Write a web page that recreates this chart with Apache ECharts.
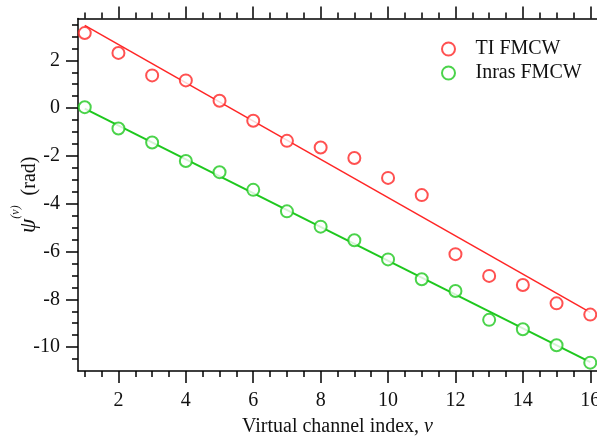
<!DOCTYPE html>
<html>
<head>
<meta charset="utf-8">
<script src="https://cdn.jsdelivr.net/npm/echarts@6/dist/echarts.min.js"></script>
<style>
html,body{margin:0;padding:0;background:#fff;}
#c{width:597px;height:441px;}
</style>
</head>
<body>
<div id="c"></div>
<script>
// Data
var channels = [1,2,3,4,5,6,7,8,9,10,11,12,13,14,15,16];
var tiValues = [3.14, 2.31, 1.37, 1.16, 0.31, -0.53, -1.37, -1.65, -2.09, -2.92, -3.64, -6.11, -7.02, -7.40, -8.17, -8.64];
var inrasValues = [0.04, -0.85, -1.44, -2.21, -2.68, -3.42, -4.32, -4.96, -5.53, -6.33, -7.16, -7.65, -8.86, -9.25, -9.92, -10.65];
var tiFitX = [1, 16];
var tiFitY = [3.46, -8.55];
var inrasFitX = [1, 16];
var inrasFitY = [-0.02, -10.63];
var xTickLabels = [2,4,6,8,10,12,14,16];
var yTickLabels = [-10,-8,-6,-4,-2,0,2];

var X_MIN = 0.8, X_MAX = 16.2, Y_MIN = -11, Y_MAX = 3.75;

function minorTicks(lo, hi, step, majors){
  var out = [];
  for (var v = lo; v <= hi + 1e-9; v += step) {
    var r = Math.round(v*100)/100;
    if (majors.indexOf(r) < 0) out.push(r);
  }
  return out;
}
var xMinor = minorTicks(1, 16, 0.5, xTickLabels);
var yMinor = minorTicks(-10.5, 3.5, 0.5, yTickLabels);

function zip(xs, ys){ return xs.map(function(x,i){ return [x, ys[i]]; }); }

var RED = '#ff2626', GREEN = '#1ec81e';
var FONT = '"Liberation Serif", "Times New Roman", serif';

function xAx(pos, showLine, ticks, len, labels){
  return {
    type:'value', position:pos, min:X_MIN, max:X_MAX,
    axisLine:{show:showLine, onZero:false, lineStyle:{color:'#000', width:1.5}},
    axisTick:{show:true, inside:false, length:len, customValues:ticks, lineStyle:{color:'#000', width:1.5}},
    axisLabel:{show:!!labels, customValues:labels||[], margin:20, color:'#111', fontFamily:FONT, fontSize:20},
    splitLine:{show:false}
  };
}
function yAx(showLine, ticks, len, labels){
  return {
    type:'value', position:'left', min:Y_MIN, max:Y_MAX,
    axisLine:{show:showLine, onZero:false, lineStyle:{color:'#000', width:1.5}},
    axisTick:{show:true, inside:false, length:len, customValues:ticks, lineStyle:{color:'#000', width:1.5}},
    axisLabel:{show:!!labels, customValues:labels||[], margin:18, color:'#111', fontFamily:FONT, fontSize:20},
    splitLine:{show:false}
  };
}

var xb = xAx('bottom', true, xTickLabels, 12, xTickLabels);
xb.name = 'Virtual channel index, {it|v}';
xb.nameLocation = 'middle';
xb.nameGap = 46;
xb.nameMoveOverlap = false;
xb.nameTextStyle = {color:'#111', fontFamily:FONT, fontSize:20, rich:{it:{fontStyle:'italic', fontFamily:FONT, fontSize:20, color:'#111'}}};

var yl = yAx(true, yTickLabels, 12, yTickLabels);
yl.name = '{psi|ψ}{sup|(v)}{gap| }{rad|(rad)}';
yl.nameLocation = 'middle';
yl.nameRotate = 90;
yl.nameGap = 38;
yl.nameMoveOverlap = false;
yl.nameTextStyle = {color:'#111', fontFamily:FONT, fontSize:20, rich:{
  psi:{fontStyle:'italic', fontFamily:FONT, fontSize:23, color:'#111', verticalAlign:'bottom', lineHeight:22},
  sup:{fontStyle:'italic', fontFamily:FONT, fontSize:12, color:'#111', verticalAlign:'top', lineHeight:12},
  gap:{fontSize:20, lineHeight:30, width:10, verticalAlign:'bottom'},
  rad:{fontFamily:FONT, fontSize:20, color:'#111', verticalAlign:'bottom', lineHeight:20}
}};

var option = {
  animation:false,
  backgroundColor:'#fff',
  grid:{left:78, right:0, top:18.5, bottom:70, containLabel:false, outerBoundsMode:'none'},
  legend:{
    orient:'vertical', left:436, top:34, itemWidth:36, itemHeight:13, itemGap:4,
    data:['TI FMCW','Inras FMCW'],
    textStyle:{fontFamily:FONT, fontSize:20, color:'#111', padding:[0,0,0,4]}
  },
  xAxis:[
    xb,
    xAx('bottom', false, xMinor, 6, null),
    xAx('top', true, xTickLabels, 12, null),
    xAx('top', false, xMinor, 6, null)
  ],
  yAxis:[
    yl,
    yAx(false, yMinor, 6, null)
  ],
  series:[
    {name:'TI FMCW fit', type:'line', data:zip(tiFitX, tiFitY), showSymbol:false, symbol:'none',
     lineStyle:{color:RED, width:1.5}, z:2},
    {name:'Inras FMCW fit', type:'line', data:zip(inrasFitX, inrasFitY), showSymbol:false, symbol:'none',
     lineStyle:{color:GREEN, width:2}, z:2},
    {name:'TI FMCW', type:'scatter', data:zip(channels, tiValues), symbol:'emptyCircle', symbolSize:12,
     itemStyle:{color:RED, borderColor:RED, borderWidth:1.5}, z:3},
    {name:'Inras FMCW', type:'scatter', data:zip(channels, inrasValues), symbol:'emptyCircle', symbolSize:12,
     itemStyle:{color:GREEN, borderColor:GREEN, borderWidth:1.5}, z:3}
  ]
};
var chart = echarts.init(document.getElementById('c'), null, {renderer:'canvas'});
chart.setOption(option);
</script>
</body>
</html>
